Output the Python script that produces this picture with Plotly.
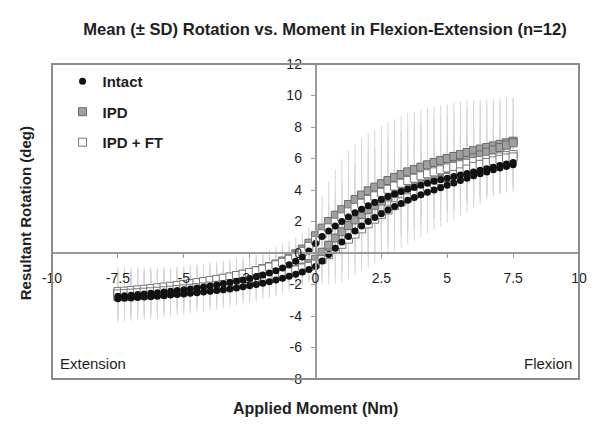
import plotly.graph_objects as go

# ---------------- data ----------------
moment = [-7.5, -7.25, -7, -6.75, -6.5, -6.25, -6, -5.75, -5.5, -5.25,
          -5, -4.75, -4.5, -4.25, -4, -3.75, -3.5, -3.25, -3, -2.75,
          -2.5, -2.25, -2, -1.75, -1.5, -1.25, -1, -0.75, -0.5, -0.25,
          0, 0.25, 0.5, 0.75, 1, 1.25, 1.5, 1.75, 2, 2.25,
          2.5, 2.75, 3, 3.25, 3.5, 3.75, 4, 4.25, 4.5, 4.75,
          5, 5.25, 5.5, 5.75, 6, 6.25, 6.5, 6.75, 7, 7.25, 7.5]

intact_upper = [-2.75, -2.72, -2.68, -2.64, -2.60, -2.56, -2.52, -2.48, -2.43, -2.38,
                -2.33, -2.28, -2.22, -2.16, -2.10, -2.03, -1.96, -1.88, -1.80, -1.71,
                -1.62, -1.51, -1.40, -1.27, -1.12, -0.95, -0.75, -0.52, -0.25, 0.12,
                0.60, 1.05, 1.40, 1.72, 2.00, 2.28, 2.55, 2.78, 3.00, 3.20,
                3.40, 3.58, 3.75, 3.90, 4.05, 4.18, 4.30, 4.43, 4.55, 4.65,
                4.75, 4.85, 4.95, 5.05, 5.15, 5.25, 5.35, 5.45, 5.55, 5.65, 5.75]
intact_lower = [-2.90, -2.88, -2.85, -2.83, -2.80, -2.77, -2.74, -2.71, -2.67, -2.64,
                -2.60, -2.56, -2.52, -2.48, -2.43, -2.38, -2.33, -2.28, -2.22, -2.15,
                -2.08, -2.00, -1.92, -1.83, -1.72, -1.60, -1.48, -1.35, -1.20, -1.05,
                -0.85, -0.50, -0.10, 0.30, 0.70, 1.05, 1.40, 1.72, 2.00, 2.26,
                2.50, 2.73, 2.95, 3.15, 3.35, 3.53, 3.70, 3.85, 4.00, 4.15,
                4.30, 4.45, 4.60, 4.75, 4.90, 5.03, 5.15, 5.28, 5.40, 5.50, 5.60]
intact_sd = [1.50, 1.48, 1.46, 1.44, 1.42, 1.40, 1.38, 1.36, 1.34, 1.32,
             1.30, 1.28, 1.26, 1.24, 1.22, 1.20, 1.18, 1.16, 1.14, 1.12,
             1.10, 1.08, 1.05, 1.02, 1.00, 0.97, 0.94, 0.90, 0.86, 0.82,
             0.80, 0.85, 0.90, 0.95, 1.00, 1.04, 1.08, 1.12, 1.15, 1.18,
             1.20, 1.22, 1.24, 1.25, 1.26, 1.27, 1.28, 1.29, 1.30, 1.30,
             1.30, 1.30, 1.30, 1.30, 1.30, 1.30, 1.30, 1.30, 1.30, 1.30, 1.30]

ipd_upper = [-2.55, -2.51, -2.47, -2.43, -2.38, -2.33, -2.28, -2.23, -2.17, -2.11,
             -2.05, -1.99, -1.92, -1.85, -1.78, -1.70, -1.62, -1.54, -1.45, -1.35,
             -1.25, -1.13, -1.00, -0.86, -0.70, -0.51, -0.30, -0.05, 0.25, 0.62,
             1.10, 1.58, 2.00, 2.40, 2.75, 3.08, 3.40, 3.68, 3.95, 4.18,
             4.40, 4.60, 4.80, 4.98, 5.15, 5.30, 5.45, 5.60, 5.75, 5.88,
             6.00, 6.13, 6.25, 6.38, 6.50, 6.60, 6.70, 6.80, 6.90, 7.00, 7.10]
ipd_lower = [-2.75, -2.73, -2.70, -2.67, -2.64, -2.61, -2.57, -2.54, -2.50, -2.46,
             -2.42, -2.38, -2.33, -2.28, -2.23, -2.18, -2.12, -2.06, -2.00, -1.93,
             -1.85, -1.77, -1.68, -1.58, -1.48, -1.36, -1.22, -1.07, -0.90, -0.68,
             -0.40, 0.05, 0.50, 0.95, 1.35, 1.74, 2.10, 2.44, 2.75, 3.03,
             3.30, 3.56, 3.80, 4.03, 4.25, 4.45, 4.65, 4.83, 5.00, 5.18,
             5.35, 5.53, 5.70, 5.88, 6.05, 6.23, 6.40, 6.55, 6.70, 6.85, 7.00]
ipd_sd = [1.30, 1.30, 1.29, 1.28, 1.27, 1.26, 1.25, 1.24, 1.23, 1.22,
          1.21, 1.20, 1.19, 1.18, 1.17, 1.16, 1.15, 1.14, 1.13, 1.12,
          1.11, 1.10, 1.09, 1.08, 1.07, 1.06, 1.05, 1.04, 1.03, 1.02,
          1.50, 2.00, 2.50, 2.90, 3.20, 3.40, 3.50, 3.60, 3.65, 3.68,
          3.70, 3.70, 3.70, 3.70, 3.70, 3.68, 3.65, 3.60, 3.55, 3.50,
          3.45, 3.40, 3.35, 3.30, 3.20, 3.10, 3.00, 2.95, 2.90, 2.85, 2.80]

ipdft_upper = [-2.45, -2.42, -2.38, -2.34, -2.30, -2.26, -2.21, -2.16, -2.11, -2.06,
               -2.00, -1.94, -1.88, -1.82, -1.75, -1.68, -1.60, -1.52, -1.43, -1.34,
               -1.24, -1.13, -1.02, -0.89, -0.75, -0.59, -0.40, -0.17, 0.10, 0.42,
               0.80, 1.22, 1.60, 1.96, 2.30, 2.61, 2.90, 3.16, 3.40, 3.63,
               3.85, 4.05, 4.25, 4.43, 4.60, 4.75, 4.90, 5.03, 5.15, 5.28,
               5.40, 5.50, 5.60, 5.70, 5.80, 5.88, 5.95, 6.03, 6.10, 6.18, 6.25]
ipdft_lower = [-2.60, -2.58, -2.55, -2.52, -2.49, -2.46, -2.43, -2.40, -2.36, -2.32,
               -2.28, -2.24, -2.20, -2.15, -2.10, -2.05, -2.00, -1.94, -1.88, -1.82,
               -1.75, -1.68, -1.60, -1.51, -1.42, -1.32, -1.20, -1.08, -0.95, -0.85,
               -0.70, -0.42, -0.10, 0.22, 0.55, 0.88, 1.20, 1.53, 1.85, 2.15,
               2.45, 2.73, 3.00, 3.25, 3.50, 3.73, 3.95, 4.18, 4.40, 4.60,
               4.80, 4.98, 5.15, 5.33, 5.50, 5.63, 5.75, 5.85, 5.95, 6.03, 6.10]
ipdft_sd = [1.55, 1.50, 1.46, 1.42, 1.38, 1.34, 1.30, 1.26, 1.22, 1.16,
            1.10, 1.08, 1.06, 1.04, 1.02, 1.00, 0.98, 0.96, 0.94, 0.92,
            0.90, 0.89, 0.88, 0.87, 0.86, 0.85, 0.84, 0.83, 0.82, 0.81,
            1.00, 1.20, 1.40, 1.60, 1.75, 1.90, 2.00, 2.10, 2.15, 2.20,
            2.20, 2.20, 2.20, 2.20, 2.20, 2.20, 2.20, 2.20, 2.20, 2.20,
            2.20, 2.20, 2.20, 2.20, 2.20, 2.20, 2.20, 2.20, 2.20, 2.20, 2.20]

x_ticks = [-10, -7.5, -5, -2.5, 0, 2.5, 5, 7.5, 10]
x_tick_labels = ["-10", "-7.5", "-5", "-2.5", "0", "2.5", "5", "7.5", "10"]
y_ticks = [-8, -6, -4, -2, 0, 2, 4, 6, 8, 10, 12]
y_tick_labels = ["-8", "-6", "-4", "-2", "0", "2", "4", "6", "8", "10", "12"]

# ---------------- figure ----------------
FONT = "Liberation Sans, Arial, sans-serif"
ERR_COLOR = "#d6d6d6"
TXT = "#1e1e1e"

series = [
    ("IPD", ipd_upper, ipd_lower, ipd_sd,
     dict(symbol="square", size=8, color="#a0a0a0", line=dict(color="#6a6a6a", width=1))),
    ("IPD + FT", ipdft_upper, ipdft_lower, ipdft_sd,
     dict(symbol="square", size=8, color="#ffffff", line=dict(color="#787878", width=1))),
    ("Intact", intact_upper, intact_lower, intact_sd,
     dict(symbol="circle", size=7, color="#111111", line=dict(color="#111111", width=0))),
]

fig = go.Figure()

# error bars first (under every marker)
for name, up, lo, sd, mk in series:
    for branch in (up, lo):
        fig.add_trace(go.Scatter(
            x=moment, y=branch, mode="markers",
            marker=dict(size=1, color="rgba(0,0,0,0)"),
            error_y=dict(type="data", array=sd, color=ERR_COLOR, thickness=1, width=0),
            showlegend=False, hoverinfo="skip"))

legend_rank = {"Intact": 1, "IPD": 2, "IPD + FT": 3}
for name, up, lo, sd, mk in series:
    for i, branch in enumerate((up, lo)):
        fig.add_trace(go.Scatter(
            x=moment, y=branch, mode="markers", name="<b>" + name + "</b>",
            marker=mk, legendgroup=name, legendrank=legend_rank[name],
            showlegend=(i == 0)))

# page body has an 8px default margin: figure is sized to fit the 602x430 window
fig.update_layout(
    width=594, height=422,
    margin=dict(l=44, r=23, t=56, b=51),
    paper_bgcolor="white", plot_bgcolor="white",
    font=dict(family=FONT, color=TXT, size=14),
    title=dict(text="<b>Mean (± SD) Rotation vs. Moment in Flexion-Extension (n=12)</b>",
               font=dict(family=FONT, size=16.6, color=TXT),
               x=317 / 594, xref="container", xanchor="center",
               y=1 - 21 / 422, yref="container", yanchor="middle"),
    xaxis=dict(range=[-10, 10], anchor="free", position=0.4,
               tickvals=x_ticks, ticktext=x_tick_labels,
               showline=True, linecolor="#9a9a9a", linewidth=1.5,
               ticks="outside", ticklen=4, tickcolor="#9a9a9a",
               ticklabelstandoff=8,
               showgrid=False, zeroline=False,
               tickfont=dict(size=14, color=TXT)),
    yaxis=dict(range=[-8, 12], anchor="free", position=0.5,
               tickvals=y_ticks, ticktext=y_tick_labels,
               showline=True, linecolor="#9a9a9a", linewidth=1.5,
               ticks="outside", ticklen=4, tickcolor="#9a9a9a",
               ticklabelstandoff=6,
               showgrid=False, zeroline=False,
               tickfont=dict(size=14, color=TXT)),
    legend=dict(x=0.02, y=0.997, xanchor="left", yanchor="top",
                bgcolor="rgba(0,0,0,0)", tracegroupgap=8,
                font=dict(family=FONT, size=15, color=TXT),
                traceorder="grouped"),
    shapes=[dict(type="rect", xref="paper", yref="paper", x0=0, y0=0, x1=1, y1=1,
                 line=dict(color="#8c8c8c", width=2), layer="above")],
    annotations=[
        dict(text="<b>Applied Moment (Nm)</b>", xref="paper", yref="paper",
             x=0.5, y=-0.095, xanchor="center", yanchor="middle", showarrow=False,
             font=dict(size=16, color=TXT)),
        dict(text="<b>Resultant Rotation (deg)</b>", xref="paper", yref="paper",
             x=-0.05, y=0.525, xanchor="center", yanchor="middle", showarrow=False,
             textangle=-90, font=dict(size=15, color=TXT)),
        dict(text="Extension", xref="paper", yref="paper",
             x=0.012, y=0.05, xanchor="left", yanchor="middle", showarrow=False,
             font=dict(size=15, color=TXT)),
        dict(text="Flexion", xref="paper", yref="paper",
             x=0.99, y=0.05, xanchor="right", yanchor="middle", showarrow=False,
             font=dict(size=15, color=TXT)),
    ],
)

fig.write_html("out.html")
